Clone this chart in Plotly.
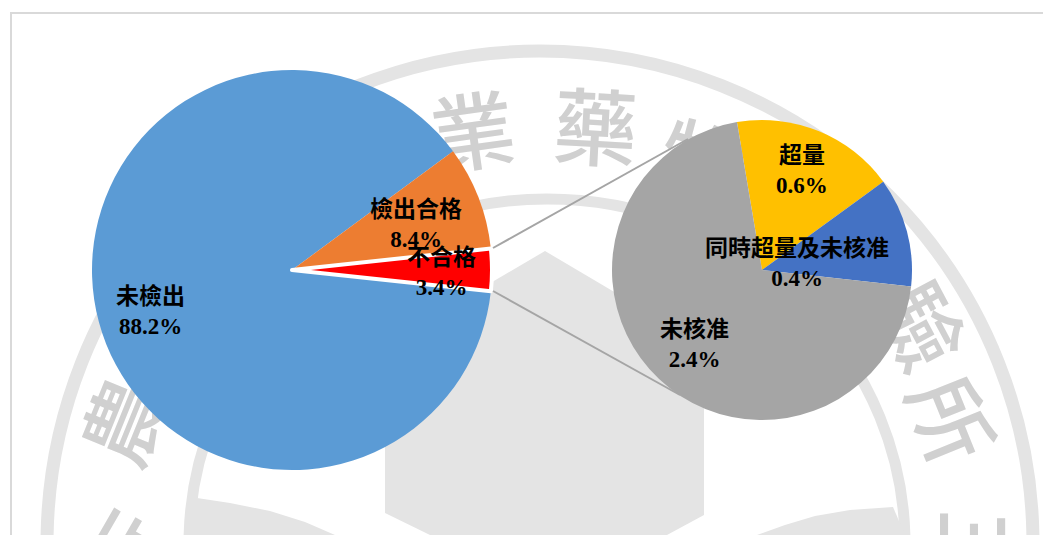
import plotly.graph_objects as go

main_labels = ["未檢出", "檢出合格", "不合格"]
main_values = [88.2, 8.4, 3.4]
main_colors = ["#5B9BD5", "#ED7D31", "#FF0000"]
sub_labels = ["超量", "同時超量及未核准", "未核准"]
sub_values = [0.6, 0.4, 2.4]
sub_colors = ["#FFC000", "#4472C4", "#A5A5A5"]

W, H = 1043, 535
def px(x): return x / W
def py(y): return 1 - y / H

fig = go.Figure()
fig.add_trace(go.Pie(labels=main_labels, values=main_values, sort=False, direction="clockwise",
    rotation=96.1, textinfo="none", hoverinfo="label+percent", showlegend=False,
    marker=dict(colors=main_colors, line=dict(color="white", width=[0, 0, 4])),
    domain=dict(x=[px(92), px(492)], y=[py(470), py(70)])))
fig.add_trace(go.Pie(labels=sub_labels, values=sub_values, sort=False, direction="clockwise",
    rotation=-9.6, textinfo="none", hoverinfo="label+value", showlegend=False,
    marker=dict(colors=sub_colors, line=dict(width=0)),
    domain=dict(x=[px(612), px(912)], y=[py(420), py(120)])))

WM = "#E4E4E4"

def poly(points):
    d = "M " + " L ".join(f"{px(x)} {py(y)}" for x, y in points) + " Z"
    return dict(type="path", xref="paper", yref="paper", layer="below", line=dict(width=0), fillcolor=WM, path=d)

def ell(cx, cy, rx, ry, w):
    return dict(type="circle", xref="paper", yref="paper", x0=px(cx - rx), x1=px(cx + rx),
                y0=py(cy + ry), y1=py(cy - ry), line=dict(color=WM, width=w), layer="below")

shapes = [
    dict(type="rect", xref="paper", yref="paper", x0=px(11), x1=px(1070), y0=py(13), y1=py(570),
         line=dict(color="#D9D9D9", width=2), layer="below"),
    ell(540, 544, 493, 493, 13),
    ell(547, 544, 358, 345, 11),
    poly([(545, 251), (704, 345), (704, 515), (667, 535), (430, 535), (385, 513), (385, 345)]),
    poly([(197, 498), (230, 503), (270, 511), (305, 522), (335, 535), (190, 535)]),
    poly([(893, 507), (850, 510), (815, 516), (785, 525), (757, 535), (905, 535)]),
    dict(type="line", xref="paper", yref="paper", x0=px(493), y0=py(248), x1=px(688), y1=py(139),
         line=dict(color="#A5A5A5", width=2)),
    dict(type="line", xref="paper", yref="paper", x0=px(493), y0=py(291), x1=px(680), y1=py(395),
         line=dict(color="#A5A5A5", width=2)),
]

wm_text = [("農", 132, 425, -68), ("業", 474, 140, -8), ("藥", 595, 136, 3), ("物", 700, 170, 15),
           ("驗", 913, 330, 62), ("所", 943, 423, 68), ("三", 965, 550, 90), ("行", 133, 560, -60)]
for t, x, y, a in wm_text:
    shapes.append(dict(type="rect", xref="paper", yref="paper", layer="below",
        x0=px(x - 50), x1=px(x + 50), y0=py(y + 50), y1=py(y - 50),
        line=dict(width=0), fillcolor="rgba(0,0,0,0)",
        label=dict(text=t, textangle=a, textposition="middle center",
                   font=dict(family="Noto Sans CJK TC", size=84, color="#D0D0D0", weight=500))))

def note(text, x, y):
    return dict(text=text, x=px(x), y=py(y), xref="paper", yref="paper", showarrow=False,
                font=dict(family="Liberation Serif, Noto Sans CJK TC", size=23, color="black", weight="bold"),
                xanchor="center", yanchor="middle", align="center")

def label(names, values, i, x, y):
    return note(f"{names[i]}<br>{values[i]}%", x, y)

annotations = [
    label(main_labels, main_values, 0, 150, 311),
    label(main_labels, main_values, 1, 416, 224),
    label(main_labels, main_values, 2, 441, 272),
    label(sub_labels, sub_values, 0, 802, 170),
    label(sub_labels, sub_values, 1, 797, 263),
    label(sub_labels, sub_values, 2, 694, 344),
]

fig.update_layout(width=W, height=H, margin=dict(l=0, r=0, t=0, b=0), paper_bgcolor="white",
                  shapes=shapes, annotations=annotations)
fig.write_html("out.html", config={"displayModeBar": False},
               post_script="document.body.style.margin='0';document.body.style.overflow='hidden';")
